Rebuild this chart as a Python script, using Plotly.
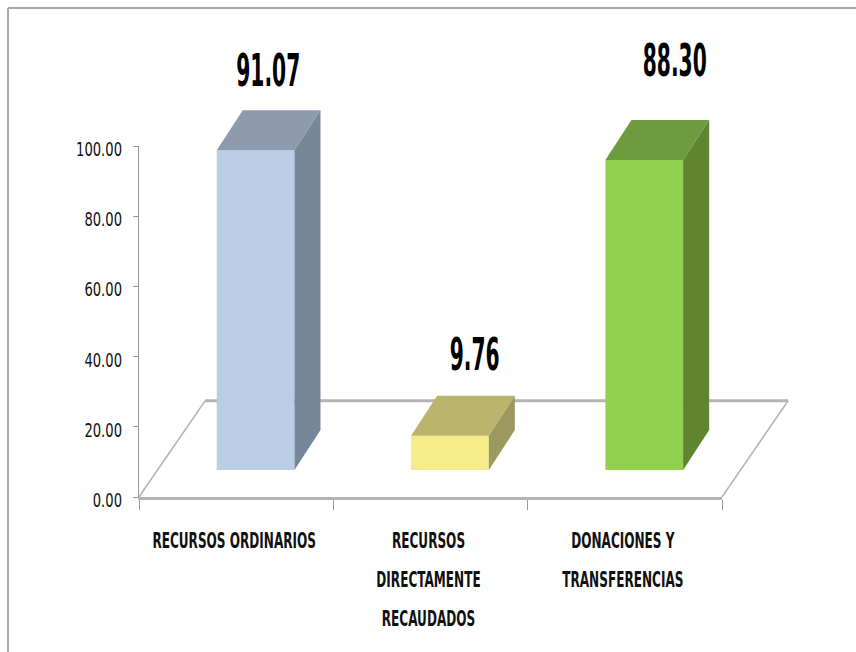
import plotly.graph_objects as go

categories = ["RECURSOS ORDINARIOS", "RECURSOS<br>DIRECTAMENTE<br>RECAUDADOS", "DONACIONES Y<br>TRANSFERENCIAS"]
values = [91.07, 9.76, 88.30]
y_ticks = [0, 20, 40, 60, 80, 100]
front_colors = ["#b9cde5", "#f5eb8b", "#92d050"]
top_colors = ["#8e9bae", "#b9b56d", "#6f9b3f"]
side_colors = ["#77879a", "#9b9860", "#5f8530"]

# pseudo-3D geometry, in axis units
BASE = 7.7
BAR_SHIFT = 0.1
BAR_W = 0.4
DX, DY = 0.134, 11.4
FLOOR_DX, FLOOR_DY = 0.34, 27.4
LABEL_DX = [0.065, 0.127, 0.157]
LABEL_DY = [21.4, 22.0, 27.2]

FONT = "'DejaVu Sans Condensed', 'Liberation Sans', sans-serif"
GRAY = "#b4b4b4"
W, H = 856, 652
L, T = 139, 20                # plot area, px
PW, PH = 661, 477             # extended drawing area, px
AW, AH = 583, 351             # visible axes area, px
x_top = -0.5 + 3 * PW / AW
y_top = 100 * PH / AH

fig = go.Figure()
xs = list(range(len(values)))

# visible axes (first subplot), carries an empty trace
fig.add_trace(go.Scatter(x=[None], y=[None], mode="lines", hoverinfo="skip", showlegend=False))

# floor (second subplot, under the bars)
fl = dict(mode="lines", cliponaxis=False, hoverinfo="skip", showlegend=False, xaxis="x2", yaxis="y2")
fig.add_trace(go.Scatter(x=[-0.5, -0.5 + FLOOR_DX], y=[0, FLOOR_DY], line=dict(color=GRAY, width=1.6), **fl))
fig.add_trace(go.Scatter(x=[-0.5 + FLOOR_DX, 2.5 + FLOOR_DX], y=[FLOOR_DY, FLOOR_DY], line=dict(color=GRAY, width=3), **fl))
fig.add_trace(go.Scatter(x=[2.5 + FLOOR_DX, 2.5], y=[FLOOR_DY, 0], line=dict(color=GRAY, width=1.6), **fl))

# bar fronts (third subplot)
fig.add_trace(go.Bar(
    x=[i + BAR_SHIFT for i in xs], y=values, base=BASE, width=BAR_W,
    marker=dict(color=front_colors, line=dict(width=0)),
    xaxis="x3", yaxis="y3", hoverinfo="skip", showlegend=False))

# bar tops and sides
for i, v in enumerate(values):
    x0 = i + BAR_SHIFT - BAR_W / 2
    x1 = i + BAR_SHIFT + BAR_W / 2
    top = BASE + v
    fig.add_trace(go.Scatter(
        x=[x0, x1, x1 + DX, x0 + DX, x0], y=[top, top, top + DY, top + DY, top],
        mode="lines", fill="toself", fillcolor=top_colors[i], line=dict(width=0),
        xaxis="x3", yaxis="y3", hoverinfo="skip", showlegend=False))
    fig.add_trace(go.Scatter(
        x=[x1, x1 + DX, x1 + DX, x1, x1], y=[BASE, BASE + DY, top + DY, top, BASE],
        mode="lines", fill="toself", fillcolor=side_colors[i], line=dict(width=0),
        xaxis="x3", yaxis="y3", hoverinfo="skip", showlegend=False))

# data labels
fig.add_trace(go.Scatter(
    x=[i + BAR_SHIFT + LABEL_DX[i] for i in xs],
    y=[BASE + v + LABEL_DY[i] for i, v in enumerate(values)],
    text=[f"{v:.2f}" for v in values], mode="text", textposition="middle center",
    textfont=dict(family=FONT, size=45, color="#000000", weight="bold"),
    xaxis="x3", yaxis="y3", cliponaxis=False, hoverinfo="skip", showlegend=False))

def tick_text(s):
    return "<br>".join(f'<span style="font-size:22px;font-weight:bold">{p}</span>' for p in s.split("<br>"))

hidden_x = dict(range=[-0.5, x_top], domain=[0, 1], visible=False)
hidden_y = dict(range=[0, y_top], domain=[0, 1], visible=False)

fig.update_layout(
    width=W, height=H, margin=dict(l=L, r=W - L - PW, t=T, b=H - T - PH, pad=0, autoexpand=False),
    paper_bgcolor="#ffffff", plot_bgcolor="rgba(0,0,0,0)", showlegend=False,
    xaxis=dict(
        domain=[0, AW / PW], anchor="y", automargin=False,
        range=[-0.5, 2.5], tickmode="array", tickvals=xs, ticktext=[tick_text(c) for c in categories],
        ticks="", showgrid=False, zeroline=False, showline=True, linecolor=GRAY, linewidth=3,
        tickfont=dict(family=FONT, size=30, color="#111111"), tickangle=0, ticklabelstandoff=12,
        minor=dict(tickmode="array", tickvals=[-0.5, 0.5, 1.5, 2.5], ticks="outside",
                   ticklen=10, tickwidth=1, tickcolor="#999999", showgrid=False)),
    yaxis=dict(
        domain=[0, AH / PH], anchor="x", automargin=False,
        range=[0, 100], tickmode="array", tickvals=y_ticks, ticktext=[f"{t:.2f}" for t in y_ticks],
        ticks="outside", ticklen=5, tickwidth=1, tickcolor="#999999",
        showgrid=False, zeroline=False, showline=True, linecolor="#999999", linewidth=1,
        ticklabelstandoff=7,
        tickfont=dict(family=FONT, size=20, color="#111111")),
    xaxis2=dict(anchor="y2", **hidden_x), yaxis2=dict(anchor="x2", **hidden_y),
    xaxis3=dict(anchor="y3", **hidden_x), yaxis3=dict(anchor="x3", **hidden_y),
    shapes=[
        dict(type="line", xref="paper", yref="paper", x0=(8 - L) / PW, x1=(8 - L) / PW,
             y0=(T + PH - 8) / PH, y1=(T + PH - H) / PH, line=dict(color="#a8a8a8", width=2)),
        dict(type="line", xref="paper", yref="paper", x0=(8 - L) / PW, x1=(W - L) / PW,
             y0=(T + PH - 8) / PH, y1=(T + PH - 8) / PH, line=dict(color="#a8a8a8", width=2)),
    ],
)

# the reference's lettering is tall and tightly condensed: squeeze the real text horizontally
post = """
document.body.style.margin='0';
function squeeze(sel, sx, dx, dy, anchor){
  document.querySelectorAll(sel).forEach(function(t){
    var b=t.getBBox();
    var cx = anchor==='end' ? b.x+b.width : b.x+b.width/2;
    var old=t.getAttribute('transform')||'';
    t.setAttribute('transform', old+' translate('+(cx+dx)+','+dy+') scale('+sx+',1) translate('+(-cx)+',0)');
  });
}
squeeze('.textpoint text', 0.5, 0, 0, 'middle');
squeeze('.xtick text', 0.61, -2, 0, 'middle');
squeeze('.ytick text', 0.73, 0, 3, 'end');
"""
fig.write_html("out.html", config=dict(displayModeBar=False), post_script=post)
